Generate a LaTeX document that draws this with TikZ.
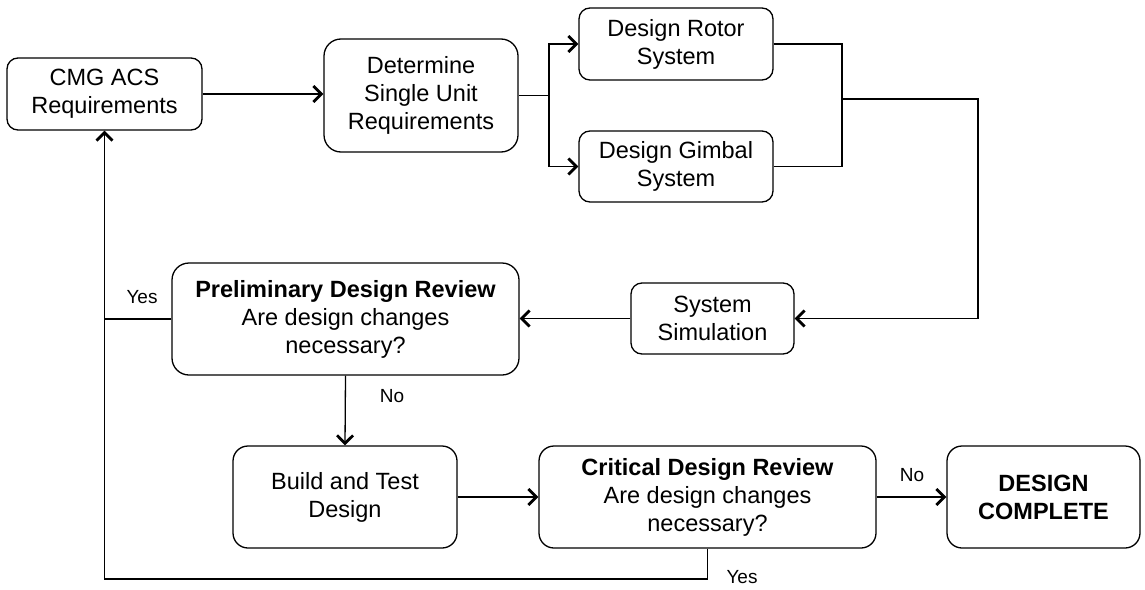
\documentclass[tikz,border=0pt]{standalone}
\usepackage{fontspec}
\setmainfont{Liberation Sans}
\usetikzlibrary{arrows.meta}
\begin{document}
\begin{tikzpicture}[x=1pt,y=-1pt,
  box/.style={draw, line width=1.3pt, align=center, inner sep=0pt,
    font=\fontsize{23.5pt}{28pt}\selectfont},
  lbl/.style={inner sep=0pt, font=\fontsize{19pt}{22pt}\selectfont},
  conn/.style={line width=1.3pt},
  arr/.style={conn, -{Straight Barb[length=8pt,width=16pt,line width=2.8pt]}}
]
\useasboundingbox (0,0) rectangle (1145,589);
% nodes
\node[box, minimum width=195pt, minimum height=72pt, rounded corners=11pt] (cmg) at (104.5,94) {CMG ACS\\Requirements};
\node[box, minimum width=194pt, minimum height=113pt, rounded corners=17pt] (det) at (421,95.5) {Determine\\Single Unit\\Requirements};
\node[box, minimum width=194pt, minimum height=72pt, rounded corners=11pt] (rotor) at (676,44) {Design Rotor\\System};
\node[box, minimum width=194pt, minimum height=71pt, rounded corners=11pt] (gimbal) at (676,166.5) {Design Gimbal\\System};
\node[box, minimum width=163pt, minimum height=71pt, rounded corners=11pt] (sim) at (712.5,318.5) {System\\Simulation};
\node[box, minimum width=347pt, minimum height=112pt, rounded corners=17pt] (pdr) at (345.5,319) {\textbf{Preliminary Design Review}\\Are design changes\\necessary?};
\node[box, minimum width=224pt, minimum height=102pt, rounded corners=15pt] (build) at (345,497) {Build and Test\\Design};
\node[box, minimum width=337pt, minimum height=102pt, rounded corners=15pt] (cdr) at (707.5,497) {\textbf{Critical Design Review}\\Are design changes\\necessary?};
\node[box, minimum width=193pt, minimum height=102pt, rounded corners=15pt] (dc) at (1043.5,497) {\textbf{DESIGN}\\\textbf{COMPLETE}};
% coordinates
\coordinate (split) at (549,95.5);
\coordinate (merge) at (842,99);
\coordinate (right) at (978,99);
\coordinate (left) at (104.5,319);
\coordinate (bottom) at (104.5,579);
% connectors
\draw[arr] (cmg.east) -- (det.west |- cmg.east);
\draw[conn] (det.east) -- (split);
\draw[arr] (split) |- (rotor.west);
\draw[arr] (split) |- (gimbal.west);
\draw[conn] (rotor.east) -| (merge);
\draw[conn] (gimbal.east) -| (merge);
\draw[arr] (merge) -- (right) |- (sim.east);
\draw[arr] (sim.west) -- (pdr.east |- sim.west);
\draw[conn] (pdr.west) -- (left);
\draw[arr] (left) -- (cmg.south);
\draw[arr] (pdr.south) -- (build.north);
\draw[arr] (build.east) -- (cdr.west);
\draw[arr] (cdr.east) -- (dc.west);
\draw[conn] (cdr.south) |- (bottom) -- (left);
% labels
\node[lbl] (yes1) at (142,297) {Yes};
\node[lbl] (no1) at (392,396) {No};
\node[lbl] (no2) at (912,475) {No};
\node[lbl] (yes2) at (742,577) {Yes};
\end{tikzpicture}
\end{document}
